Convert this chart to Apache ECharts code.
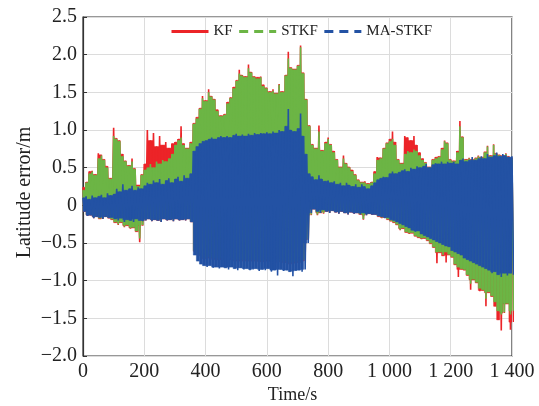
<!DOCTYPE html>
<html>
<head>
<meta charset="utf-8">
<script src="https://cdn.jsdelivr.net/npm/echarts@6/dist/echarts.min.js"></script>
<style>
  html, body { margin: 0; padding: 0; background: #fff; }
  #chart { width: 539px; height: 406px; }
</style>
</head>
<body>
<div id="chart"></div>
<script>
// Latitude error of three filters, sampled every 10 s (t = 0 … 1400 s).
// Each filter is stored as its upper and lower swing at every sample.
const SAMPLE_STEP = 10;

const seriesNames = ['KF', 'STKF', 'MA-STKF'];
const xTickLabels = ['0', '200', '400', '600', '800', '1 000', '1 200', '1 400'];
const yTickLabels = ['\u22122.0', '\u22121.5', '\u22121.0', '\u22120.5', '0', '0.5', '1.0', '1.5', '2.0', '2.5'];

const kfHigh = [
  0.24, 0.31, 0.45, 0.46, 0.41, 0.69, 0.67, 0.61, 0.52, 0.36,
  1.03, 0.89, 0.86, 0.68, 0.59, 0.53, 0.62, 0.49, 0.27, 0.41,
  0.55, 1.00, 0.86, 0.96, 0.78, 0.92, 0.80, 0.84, 0.76, 0.82,
  0.84, 0.88, 1.05, 0.82, 0.76, 0.84, 1.09, 1.17, 1.29, 1.45,
  1.39, 1.54, 1.45, 1.41, 1.27, 1.19, 1.21, 1.37, 1.43, 1.57,
  1.66, 1.80, 1.73, 1.71, 1.87, 1.77, 1.71, 1.70, 1.71, 1.60,
  1.56, 1.51, 1.54, 1.49, 1.61, 1.51, 1.73, 2.04, 1.83, 1.81,
  1.86, 2.12, 1.76, 1.41, 1.06, 0.81, 0.76, 1.06, 0.73, 0.84,
  0.90, 0.81, 0.72, 0.61, 0.51, 0.66, 0.56, 0.51, 0.47, 0.41,
  0.34, 0.31, 0.32, 0.29, 0.31, 0.45, 0.64, 0.63, 0.76, 0.83,
  0.88, 0.98, 0.84, 0.61, 0.56, 0.92, 0.90, 0.86, 0.92, 0.80,
  0.70, 0.62, 0.57, 0.51, 0.61, 0.64, 0.65, 0.76, 0.86, 0.83,
  0.61, 0.59, 0.72, 1.12, 0.91, 0.61, 0.63, 0.61, 0.63, 0.66,
  0.64, 0.71, 0.79, 0.66, 0.81, 0.69, 0.67, 0.66, 0.69, 0.65,
  0.63
];
const kfLow = [
  -0.08, -0.14, -0.13, -0.17, -0.15, -0.18, -0.18, -0.15, -0.17, -0.19,
  -0.23, -0.26, -0.23, -0.29, -0.27, -0.31, -0.30, -0.35, -0.49, -0.27,
  -0.20, -0.18, -0.21, -0.19, -0.20, -0.22, -0.18, -0.20, -0.19, -0.21,
  -0.18, -0.20, -0.19, -0.20, -0.18, -0.22, -0.61, -0.66, -0.67, -0.71,
  -0.72, -0.70, -0.72, -0.74, -0.72, -0.74, -0.72, -0.75, -0.72, -0.74,
  -0.76, -0.74, -0.75, -0.74, -0.76, -0.74, -0.74, -0.77, -0.75, -0.76,
  -0.74, -0.77, -0.76, -0.78, -0.75, -0.77, -0.76, -0.78, -0.80, -0.77,
  -0.76, -0.78, -0.74, -0.46, -0.13, -0.05, -0.13, -0.10, -0.11, -0.08,
  -0.10, -0.07, -0.09, -0.11, -0.08, -0.10, -0.12, -0.09, -0.11, -0.10,
  -0.12, -0.19, -0.13, -0.11, -0.12, -0.12, -0.15, -0.17, -0.16, -0.19,
  -0.21, -0.23, -0.26, -0.33, -0.31, -0.36, -0.38, -0.37, -0.41, -0.43,
  -0.45, -0.44, -0.47, -0.51, -0.56, -0.77, -0.63, -0.67, -0.76, -0.66,
  -0.69, -0.79, -0.95, -0.85, -0.86, -0.93, -1.12, -0.99, -1.03, -1.14,
  -1.13, -1.34, -1.16, -1.21, -1.34, -1.52, -1.66, -1.43, -1.31, -1.65,
  -1.55
];

const stkfHigh = [
  0.20, 0.30, 0.42, 0.45, 0.40, 0.62, 0.66, 0.60, 0.50, 0.35,
  0.92, 0.88, 0.85, 0.65, 0.58, 0.52, 0.58, 0.48, 0.25, 0.40,
  0.47, 0.50, 0.55, 0.50, 0.58, 0.55, 0.60, 0.58, 0.62, 0.68,
  0.80, 0.86, 0.90, 0.80, 0.75, 0.82, 1.08, 1.15, 1.28, 1.42,
  1.38, 1.50, 1.44, 1.40, 1.25, 1.18, 1.20, 1.35, 1.42, 1.55,
  1.65, 1.75, 1.72, 1.70, 1.82, 1.76, 1.70, 1.68, 1.70, 1.58,
  1.55, 1.50, 1.52, 1.48, 1.60, 1.50, 1.72, 1.95, 1.82, 1.80,
  1.85, 2.10, 1.75, 1.40, 1.05, 0.80, 0.75, 0.98, 0.72, 0.82,
  0.88, 0.80, 0.70, 0.60, 0.50, 0.62, 0.55, 0.50, 0.45, 0.40,
  0.33, 0.30, 0.30, 0.28, 0.30, 0.42, 0.60, 0.62, 0.75, 0.82,
  0.85, 0.88, 0.80, 0.60, 0.55, 0.68, 0.72, 0.70, 0.74, 0.72,
  0.66, 0.60, 0.56, 0.50, 0.60, 0.62, 0.64, 0.74, 0.85, 0.82,
  0.60, 0.58, 0.70, 1.05, 0.90, 0.60, 0.62, 0.60, 0.62, 0.65,
  0.63, 0.70, 0.78, 0.65, 0.80, 0.68, 0.66, 0.65, 0.68, 0.64,
  0.62
];
const stkfLow = [
  -0.07, -0.13, -0.12, -0.16, -0.14, -0.17, -0.17, -0.14, -0.16, -0.18,
  -0.22, -0.25, -0.22, -0.28, -0.26, -0.30, -0.29, -0.34, -0.44, -0.26,
  -0.19, -0.17, -0.20, -0.18, -0.19, -0.21, -0.17, -0.19, -0.18, -0.20,
  -0.17, -0.19, -0.18, -0.19, -0.17, -0.21, -0.60, -0.65, -0.66, -0.70,
  -0.70, -0.68, -0.70, -0.72, -0.70, -0.72, -0.70, -0.73, -0.70, -0.72,
  -0.74, -0.72, -0.73, -0.72, -0.74, -0.72, -0.72, -0.75, -0.73, -0.74,
  -0.72, -0.75, -0.74, -0.76, -0.73, -0.75, -0.74, -0.76, -0.78, -0.75,
  -0.74, -0.76, -0.72, -0.45, -0.12, -0.04, -0.12, -0.09, -0.10, -0.07,
  -0.09, -0.06, -0.08, -0.10, -0.07, -0.09, -0.11, -0.08, -0.10, -0.09,
  -0.11, -0.18, -0.12, -0.10, -0.11, -0.11, -0.14, -0.16, -0.15, -0.18,
  -0.20, -0.22, -0.25, -0.32, -0.30, -0.35, -0.37, -0.36, -0.40, -0.42,
  -0.44, -0.43, -0.46, -0.50, -0.55, -0.62, -0.62, -0.66, -0.62, -0.65,
  -0.68, -0.78, -0.82, -0.84, -0.85, -0.92, -1.04, -0.98, -1.02, -1.10,
  -1.12, -1.24, -1.15, -1.20, -1.28, -1.40, -1.45, -1.42, -1.30, -1.45,
  -1.40
];

const maHigh = [
  0.10, 0.12, 0.08, 0.13, 0.10, 0.12, 0.14, 0.10, 0.16, 0.13,
  0.15, 0.22, 0.18, 0.28, 0.20, 0.22, 0.26, 0.20, 0.24, 0.22,
  0.26, 0.30, 0.28, 0.33, 0.30, 0.35, 0.28, 0.33, 0.36, 0.30,
  0.35, 0.38, 0.32, 0.40, 0.36, 0.42, 0.72, 0.78, 0.82, 0.85,
  0.86, 0.88, 0.90, 0.88, 0.90, 0.92, 0.90, 0.92, 0.90, 0.93,
  0.95, 0.92, 0.94, 0.92, 0.95, 0.93, 0.96, 0.94, 0.96, 0.95,
  0.97, 0.95, 0.98, 0.96, 1.00, 0.98, 1.05, 1.28, 1.00, 0.98,
  1.02, 1.22, 0.92, 0.68, 0.42, 0.38, 0.34, 0.40, 0.35, 0.32,
  0.33, 0.30, 0.32, 0.28, 0.30, 0.26, 0.30, 0.27, 0.25, 0.28,
  0.24, 0.28, 0.25, 0.22, 0.26, 0.30, 0.34, 0.36, 0.38, 0.37,
  0.42, 0.45, 0.42, 0.44, 0.46, 0.48, 0.45, 0.50, 0.48, 0.52,
  0.50, 0.52, 0.55, 0.50, 0.54, 0.56, 0.55, 0.58, 0.55, 0.58,
  0.56, 0.58, 0.55, 0.60, 0.62, 0.58, 0.60, 0.64, 0.60, 0.62,
  0.65, 0.62, 0.68, 0.64, 0.66, 0.70, 0.65, 0.68, 0.66, 0.64,
  0.65
];
const maLow = [
  -0.08, -0.14, -0.13, -0.17, -0.15, -0.16, -0.18, -0.15, -0.17, -0.16,
  -0.18, -0.20, -0.17, -0.22, -0.19, -0.20, -0.22, -0.18, -0.20, -0.21,
  -0.20, -0.18, -0.21, -0.19, -0.20, -0.22, -0.18, -0.20, -0.19, -0.21,
  -0.18, -0.20, -0.19, -0.20, -0.18, -0.22, -0.66, -0.74, -0.78, -0.80,
  -0.82, -0.80, -0.83, -0.82, -0.84, -0.82, -0.83, -0.85, -0.82, -0.84,
  -0.86, -0.83, -0.85, -0.84, -0.86, -0.85, -0.84, -0.87, -0.85, -0.86,
  -0.84, -0.88, -0.86, -0.93, -0.85, -0.87, -0.86, -0.88, -0.94, -0.87,
  -0.86, -0.88, -0.85, -0.50, -0.10, -0.05, -0.08, -0.10, -0.06, -0.08,
  -0.10, -0.07, -0.09, -0.11, -0.08, -0.10, -0.12, -0.09, -0.11, -0.10,
  -0.12, -0.10, -0.13, -0.11, -0.12, -0.12, -0.14, -0.15, -0.17, -0.16,
  -0.19, -0.20, -0.22, -0.24, -0.26, -0.28, -0.30, -0.33, -0.35, -0.34,
  -0.38, -0.40, -0.42, -0.44, -0.46, -0.48, -0.50, -0.52, -0.54, -0.55,
  -0.60, -0.62, -0.64, -0.66, -0.70, -0.72, -0.74, -0.76, -0.78, -0.80,
  -0.82, -0.84, -0.86, -0.90, -0.88, -0.92, -0.95, -0.90, -0.93, -0.90,
  -0.92
];

const FONT = "'Liberation Serif', 'Times New Roman', serif";
const colors = ['#ec2428', '#6cb545', '#2352a4'];

// Each sample swings from its upper value at t to its lower value half a step later.
function swing(high, low) {
  const pts = [];
  for (let i = 0; i < high.length; i++) {
    const t = i * SAMPLE_STEP;
    pts.push([t, high[i]]);
    pts.push([t + SAMPLE_STEP / 2, low[i]]);
  }
  return pts;
}

// Solid core between consecutive samples: [t0, t1, inner low, inner high];
// the swings above/below it stay visible as jagged edges.
function core(high, low) {
  const segs = [];
  for (let i = 0; i + 1 < high.length; i++) {
    segs.push([
      i * SAMPLE_STEP, (i + 1) * SAMPLE_STEP,
      Math.max(low[i], low[i + 1]), Math.min(high[i], high[i + 1])
    ]);
  }
  return segs;
}

function coreRenderer(color) {
  return function (params, api) {
    const a = api.coord([api.value(0), api.value(3)]);
    const b = api.coord([api.value(1), api.value(2)]);
    return {
      type: 'rect',
      shape: { x: a[0], y: a[1], width: b[0] - a[0], height: b[1] - a[1] },
      style: { fill: color, stroke: color, lineWidth: 0.5 }
    };
  };
}

function tickText(labels, min, step) {
  return function (v) {
    const idx = Math.round((v - min) / step);
    return labels[idx] !== undefined ? labels[idx] : '';
  };
}

const chart = echarts.init(document.getElementById('chart'), null, { renderer: 'canvas' });

const ranges = [[kfHigh, kfLow], [stkfHigh, stkfLow], [maHigh, maLow]];
const series = [];
ranges.forEach(function (pair, k) {
  series.push({
    name: seriesNames[k] + ' core', type: 'custom',
    renderItem: coreRenderer(colors[k]),
    encode: { x: [0, 1], y: [2, 3] },
    data: core(pair[0], pair[1]),
    clip: true, silent: true, z: 2 + k
  });
  series.push({
    name: seriesNames[k], type: 'line', symbol: 'none',
    data: swing(pair[0], pair[1]),
    lineStyle: { color: colors[k], width: 1.6 },
    itemStyle: { color: colors[k] },
    sampling: null, clip: true, z: 2 + k
  });
});

const legendLine = function (dash) {
  return { width: 3, type: dash };
};

chart.setOption({
  animation: false,
  backgroundColor: '#fff',
  grid: {
    left: 83, right: 27, top: 17, bottom: 50,
    outerBoundsMode: 'none', containLabel: false,
    show: true, borderColor: '#333', borderWidth: 1.2, backgroundColor: 'transparent'
  },
  legend: {
    top: 24, left: 170, padding: 0, z: 20,
    itemWidth: 37, itemHeight: 14, itemGap: 5,
    itemStyle: { opacity: 0 },
    textStyle: { fontFamily: FONT, fontSize: 15, color: '#222' },
    data: [
      { name: 'KF', lineStyle: legendLine('solid') },
      { name: 'STKF', lineStyle: legendLine([9, 6]) },
      { name: 'MA-STKF', lineStyle: legendLine([9, 6]) }
    ]
  },
  xAxis: {
    type: 'value', min: 0, max: 1400, interval: 200,
    name: 'Time/s', nameLocation: 'middle', nameGap: 30, nameMoveOverlap: false,
    nameTextStyle: { fontFamily: FONT, fontSize: 18, color: '#222', padding: [0, 10, 0, 0] },
    axisLine: { show: true, lineStyle: { color: '#333', width: 1.2 } },
    axisTick: { show: true, inside: true, length: 4, lineStyle: { color: '#333' } },
    axisLabel: { fontFamily: FONT, fontSize: 20, color: '#222', margin: 6,
      formatter: tickText(xTickLabels, 0, 200) },
    splitLine: { show: true, lineStyle: { color: '#dcdcdc', width: 1 } }
  },
  yAxis: {
    type: 'value', min: -2, max: 2.5, interval: 0.5,
    name: 'Latitude error/m', nameLocation: 'middle', nameGap: 48, nameMoveOverlap: false,
    nameTextStyle: { fontFamily: FONT, fontSize: 20, color: '#222', padding: [0, 12, 0, 0] },
    axisLine: { show: true, lineStyle: { color: '#333', width: 1.2 } },
    axisTick: { show: true, inside: true, length: 4, lineStyle: { color: '#333' } },
    axisLabel: { fontFamily: FONT, fontSize: 20, color: '#222', margin: 6,
      formatter: tickText(yTickLabels, -2, 0.5) },
    splitLine: { show: true, lineStyle: { color: '#dcdcdc', width: 1 } }
  },
  series: series
});
</script>
</body>
</html>
